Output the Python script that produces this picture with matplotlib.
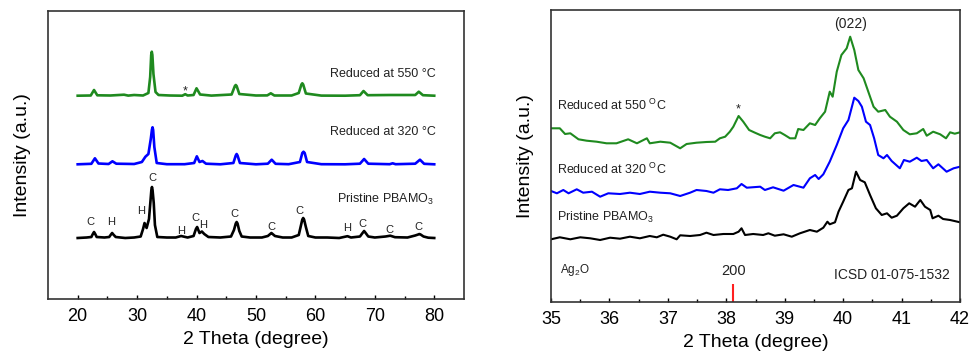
import matplotlib.pyplot as plt

plt.rcParams['font.family'] = 'Liberation Sans'
plt.rcParams['mathtext.fontset'] = 'custom'
plt.rcParams['mathtext.rm'] = 'Liberation Sans'
plt.rcParams['mathtext.default'] = 'regular'

GREEN = '#1f8a1f'
BLUE = '#0000ff'
BLACK = '#000000'
TXT = '#222222'

# ---- left panel: full scan 20-80 deg (intensities in arbitrary offset units)
pristine_x = [20.0, 21.5, 22.3, 22.55, 22.75, 22.95, 23.2, 24.5, 25.3, 25.6, 25.8, 26.0, 26.4, 28.0, 29.5,
              30.6, 31.0, 31.25, 31.6, 32.0, 32.25, 32.4, 32.5, 32.6, 32.8, 33.0, 33.4, 35.0, 36.5, 37.4,
              38.5, 39.5, 39.9, 40.1, 40.5, 40.9, 41.3, 42.0, 44.0, 45.8, 46.3, 46.6, 46.75, 46.9, 47.2,
              47.6, 49.0, 51.0, 52.0, 52.4, 52.6, 52.8, 53.2, 54.5, 56.0, 57.2, 57.55, 57.8, 57.95, 58.1,
              58.4, 58.8, 60.0, 62.0, 64.0, 65.4, 66.0, 67.5, 68.0, 68.2, 68.4, 68.9, 70.0, 71.8, 72.6,
              73.4, 75.5, 76.8, 77.3, 77.5, 77.7, 78.2, 79.0, 80.0]
pristine_y = [61, 61.5, 62, 65, 67, 65, 62, 61.5, 62, 64.5, 66, 64.5, 62, 61, 61.5,
              62.5, 70, 76, 71, 80, 98, 109, 112, 109, 96, 74, 62, 61.5, 61.5, 63,
              61.5, 63, 70, 72, 66, 67.5, 65, 62, 61.5, 62.5, 69, 75.5, 77, 75.5, 68,
              62.5, 61.5, 61.5, 63, 65, 66, 65, 63, 61.5, 61.5, 64, 73, 79.5, 81, 79.5,
              72, 63, 61.5, 61.5, 61, 62.8, 61.5, 62.5, 66.5, 68, 66.5, 62.5, 61.5, 62.5, 63.3,
              61.8, 61.5, 63.5, 64.5, 65, 64.5, 62.5, 61.3, 61]

r320_x = [20.0, 22.3, 22.9, 23.5, 25.2, 25.85, 26.5, 29.5, 30.8, 31.4, 31.9, 32.3, 32.5, 32.6, 32.7,
          32.9, 33.3, 35.0, 38.0, 39.6, 40.05, 40.5, 41.0, 41.6, 44.0, 46.2, 46.6, 46.75, 46.9, 47.3,
          50.0, 52.0, 52.65, 53.3, 55.5, 57.4, 57.8, 58.0, 58.2, 58.6, 61.0, 65.0, 67.5, 68.2, 68.9,
          72.5, 73.0, 73.5, 76.8, 77.6, 78.3, 80.0]
r320_y = [134.7, 135.2, 140.7, 135.5, 135, 137.7, 135.3, 135, 137, 142.3, 145, 160, 169.5, 171.7, 169,
          152, 136, 134.8, 134.8, 136, 142.7, 137, 138, 135.3, 134.7, 136, 143.5, 145, 143.5, 136,
          134.7, 135.3, 139.3, 135.2, 134.8, 137, 146, 147.3, 146, 137, 134.8, 134.7, 135.3, 140, 135.3,
          134.8, 135.7, 134.8, 135.3, 139.3, 135.2, 134.7]

r550_x = [20.0, 22.2, 22.75, 23.3, 25.5, 27.8, 28.5, 29.5, 31.0, 31.9, 32.2, 32.37, 32.47, 32.57, 32.75,
          33.1, 33.6, 35.5, 37.6, 38.1, 38.5, 39.5, 40.0, 40.6, 42.5, 45.9, 46.45, 46.6, 46.75, 47.2,
          50.0, 51.9, 52.5, 53.1, 56.0, 57.2, 57.65, 57.8, 57.95, 58.4, 61.0, 65.0, 67.5, 68.1, 68.8,
          72.5, 76.8, 77.4, 78.1, 80.0]
r550_y = [203.3, 203.5, 209, 203.7, 203.5, 204.3, 203.4, 204, 203.5, 206, 222, 244, 247.3, 244, 225,
          207, 204, 203.5, 203.3, 204.8, 203.5, 204, 210.7, 204.5, 203.4, 204.5, 213, 214, 213, 205,
          203.5, 203.6, 205.7, 203.5, 203.5, 206, 214.5, 215.7, 214.5, 205.5, 203.4, 203.3, 203.8, 208, 203.8,
          204, 204, 207.3, 203.8, 203.3]

left_letters = ['C', 'H', 'H', 'C', 'H', 'C', 'H', 'C', 'C', 'C', 'H', 'C', 'C', 'C']
left_letters_x = [22.2, 25.6, 30.6, 32.5, 37.4, 39.8, 41.1, 46.3, 52.6, 57.4, 65.3, 68.0, 72.4, 77.4]
left_letters_y = [77, 77, 88.3, 121.3, 68, 81.3, 74, 84.7, 72.3, 88, 71, 75.3, 69, 71.7]

# ---- right panel: zoom 35-42 deg
zoom550_x = [35.0, 35.15, 35.24, 35.33, 35.47, 35.61, 35.78, 35.95, 36.12, 36.32, 36.47, 36.64, 36.69,
             36.87, 37.04, 37.21, 37.32, 37.49, 37.66, 37.81, 37.89, 37.98, 38.06, 38.12, 38.21, 38.29,
             38.39, 38.49, 38.58, 38.66, 38.75, 38.83, 38.92, 39.0, 39.09, 39.18, 39.23, 39.32, 39.43,
             39.52, 39.6, 39.69, 39.77, 39.82, 39.89, 39.97, 40.06, 40.12, 40.19, 40.26, 40.35, 40.43,
             40.52, 40.6, 40.72, 40.8, 40.92, 41.03, 41.14, 41.26, 41.37, 41.43, 41.54, 41.66, 41.76,
             41.83, 41.91, 42.0]
zoom550_y = [173.7, 173.7, 168, 168.7, 162.7, 161.3, 160.3, 158.7, 158.7, 162.7, 158.7, 163.7, 158.7,
             160.3, 159.3, 153.7, 158, 159.3, 160, 160.3, 163.7, 165.3, 170.3, 175.3, 186, 180.3,
             172, 169.3, 167, 165.3, 163.7, 168.7, 169.7, 167, 163.7, 163.7, 173, 172, 178.7,
             177, 183.7, 190.3, 210.3, 205.3, 230.3, 247, 253.7, 265.3, 252, 232, 223.7, 210.3,
             195.3, 190.3, 192, 185.3, 180.3, 172, 167.7, 168.7, 173, 166.3, 170.3, 167.7, 163.7,
             169.7, 168.3, 169.7]

zoom320_x = [35.0, 35.1, 35.21, 35.3, 35.44, 35.55, 35.7, 35.84, 35.98, 36.18, 36.35, 36.52, 36.69,
             36.87, 37.04, 37.21, 37.38, 37.49, 37.66, 37.78, 37.89, 38.03, 38.18, 38.26, 38.35, 38.58,
             38.66, 38.8, 38.98, 39.15, 39.32, 39.43, 39.52, 39.58, 39.66, 39.77, 39.89, 40.0, 40.09,
             40.19, 40.26, 40.32, 40.39, 40.46, 40.53, 40.6, 40.69, 40.75, 40.83, 40.97, 41.04, 41.14,
             41.26, 41.34, 41.43, 41.54, 41.63, 41.77, 41.89, 42.0]
zoom320_y = [111, 108.7, 112, 108.7, 112.7, 109.3, 110.3, 105.3, 108.7, 108, 109.3, 108, 110.3,
             109.3, 108.7, 106, 109.3, 112, 111, 109.3, 112.7, 112, 113.7, 118, 114.3, 115.3,
             112, 114.7, 111.3, 117, 114.3, 123.7, 127, 123, 127.7, 140.3, 157, 173.7, 182,
             204.3, 201, 195.3, 180.3, 177, 163.7, 147, 143.7, 147, 141, 133.7, 142, 140.3,
             144.3, 141, 142, 133.7, 137.7, 130.3, 133.7, 135.3]

zoomp_x = [35.0, 35.15, 35.33, 35.5, 35.67, 35.84, 36.01, 36.18, 36.35, 36.52, 36.69, 36.81, 36.92,
           37.04, 37.15, 37.21, 37.38, 37.55, 37.66, 37.78, 37.95, 38.12, 38.21, 38.26, 38.32, 38.46,
           38.63, 38.72, 38.83, 38.98, 39.12, 39.26, 39.43, 39.55, 39.66, 39.73, 39.77, 39.86, 39.92,
           40.0, 40.09, 40.15, 40.22, 40.29, 40.37, 40.46, 40.56, 40.66, 40.75, 40.83, 40.92, 41.03,
           41.13, 41.23, 41.32, 41.4, 41.49, 41.53, 41.63, 41.71, 41.83, 42.0]
zoomp_y = [62.7, 64.7, 62.7, 64.7, 63.7, 62, 64.3, 63.3, 65.3, 63.7, 66, 64.7, 67.3,
           65.3, 62.7, 66.7, 66, 67, 69.3, 67, 68, 68, 70.3, 73.7, 67, 68,
           67, 68.7, 66.3, 67.7, 65.3, 68.7, 72, 70.3, 74.3, 80.3, 77.7, 79.7, 90.3,
           100.3, 112, 113.7, 130.3, 122, 119.7, 107, 93.7, 87, 88.7, 84.3, 86.3, 93.7,
           98.7, 95.3, 102, 95.3, 92, 83.7, 86.3, 83, 82, 79.7]

ag2o_ref_x = [38.12]

fig = plt.figure(figsize=(9.71, 3.56), dpi=100)
ax1 = fig.add_axes([0.0494, 0.1601, 0.4284, 0.809])
ax2 = fig.add_axes([0.5675, 0.1517, 0.4212, 0.8202])

# left
ax1.plot(r550_x, r550_y, color=GREEN, lw=1.9)
ax1.plot(r320_x, r320_y, color=BLUE, lw=1.9)
ax1.plot(pristine_x, pristine_y, color=BLACK, lw=1.9)
ax1.set_xlim(15, 85)
ax1.set_ylim(0, 288)
ax1.set_xticks(range(20, 81, 10))
ax1.set_xticks(range(25, 80, 10), minor=True)
ax1.text(80.3, 225, 'Reduced at 550 °C', ha='right', va='center', fontsize=9, color=TXT)
ax1.text(80.2, 167, 'Reduced at 320 °C', ha='right', va='center', fontsize=9, color=TXT)
ax1.text(79.9, 100, 'Pristine PBAMO$_3$', ha='right', va='center', fontsize=9, color=TXT)
ax1.text(38.03, 208, '*', ha='center', va='center', fontsize=9, color=TXT)
for lab, lx, ly in zip(left_letters, left_letters_x, left_letters_y):
    ax1.text(lx, ly, lab, ha='center', va='center', fontsize=8, color=TXT)

# right
ax2.plot(zoom550_x, zoom550_y, color=GREEN, lw=1.5)
ax2.plot(zoom320_x, zoom320_y, color=BLUE, lw=1.5)
ax2.plot(zoomp_x, zoomp_y, color=BLACK, lw=1.5)
ax2.vlines(ag2o_ref_x, 0, 18, color='#ff2020', lw=1.5)
ax2.set_xlim(35, 42)
ax2.set_ylim(0, 292)
ax2.set_xticks(range(35, 43))
ax2.set_xticks([35.5 + i for i in range(7)], minor=True)
ax2.text(40.13, 278, '(022)', ha='center', va='center', fontsize=10, color=TXT)
ax2.text(35.1, 197, 'Reduced at 550 $^O$C', ha='left', va='center', fontsize=9, color=TXT)
ax2.text(35.1, 133, 'Reduced at 320 $^O$C', ha='left', va='center', fontsize=9, color=TXT)
ax2.text(35.1, 85, 'Pristine PBAMO$_3$', ha='left', va='center', fontsize=9, color=TXT)
ax2.text(38.2, 193, '*', ha='center', va='center', fontsize=9, color=TXT)
ax2.text(35.15, 32, 'Ag$_2$O', ha='left', va='center', fontsize=8.5, color=TXT)
ax2.text(38.12, 31, '200', ha='center', va='center', fontsize=10.5, color=TXT)
ax2.text(41.83, 27, 'ICSD 01-075-1532', ha='right', va='center', fontsize=10, color=TXT)

for ax in (ax1, ax2):
    ax.set_yticks([])
    ax.tick_params(axis='x', which='both', direction='in', labelsize=13, pad=6.5)
    ax.tick_params(axis='x', which='major', length=3.2, width=1)
    ax.tick_params(axis='x', which='minor', length=2, width=1)
    for s in ax.spines.values():
        s.set_linewidth(1.2)
        s.set_color('#333333')
    ax.set_xlabel('2 Theta (degree)', fontsize=14, labelpad=4)
    ax.set_ylabel('Intensity (a.u.)', fontsize=14, labelpad=12)

fig.savefig('out.png', dpi=100)
